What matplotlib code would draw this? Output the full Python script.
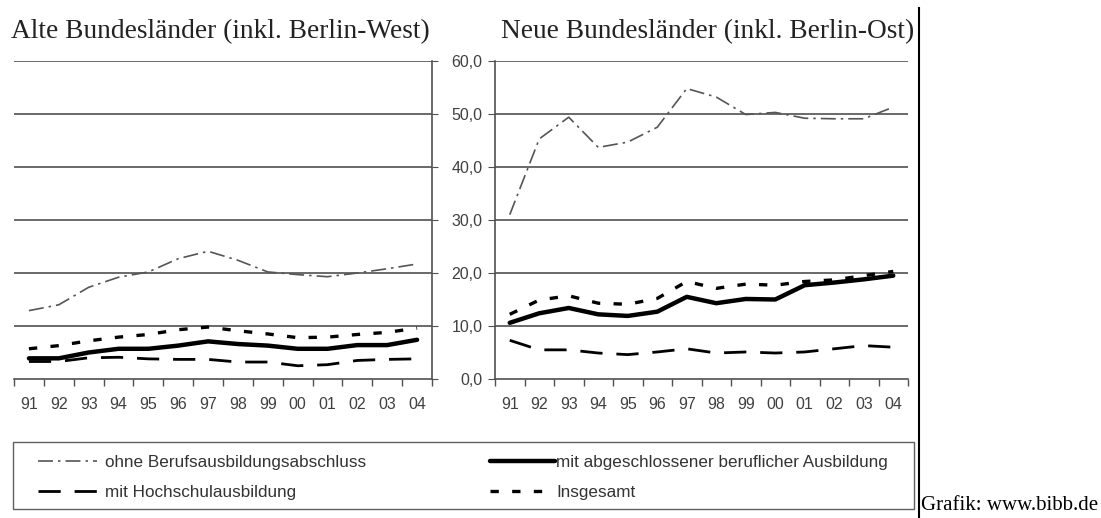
import numpy as np
import matplotlib
matplotlib.use('Agg')
import matplotlib.pyplot as plt
from matplotlib.lines import Line2D
from matplotlib.patches import Rectangle

years = ['91', '92', '93', '94', '95', '96', '97', '98', '99', '00', '01', '02', '03', '04']

# Alte Bundeslaender (inkl. Berlin-West)
west_ohne = [12.9, 14.0, 17.3, 19.2, 20.2, 22.7, 24.1, 22.4, 20.2, 19.7, 19.3, 20.0, 20.8, 21.7]
west_mit = [3.9, 3.9, 5.0, 5.7, 5.7, 6.3, 7.1, 6.6, 6.3, 5.7, 5.7, 6.4, 6.4, 7.4]
west_hoch = [3.3, 3.3, 4.0, 4.1, 3.8, 3.7, 3.7, 3.2, 3.2, 2.5, 2.7, 3.5, 3.7, 3.8]
west_ges = [5.7, 6.3, 7.2, 7.9, 8.4, 9.3, 9.8, 9.1, 8.5, 7.8, 7.9, 8.4, 8.8, 9.6]

# Neue Bundeslaender (inkl. Berlin-Ost)
ost_ohne = [31.0, 45.3, 49.4, 43.7, 44.7, 47.5, 54.8, 53.2, 49.9, 50.3, 49.2, 49.1, 49.1, 51.3]
ost_mit = [10.6, 12.4, 13.4, 12.2, 11.9, 12.7, 15.5, 14.3, 15.1, 15.0, 17.7, 18.2, 18.8, 19.5]
ost_hoch = [7.3, 5.5, 5.5, 4.9, 4.6, 5.1, 5.7, 4.9, 5.1, 4.9, 5.1, 5.7, 6.3, 6.0]
ost_ges = [12.2, 14.9, 15.7, 14.3, 14.1, 15.2, 18.4, 17.1, 17.9, 17.7, 18.4, 18.7, 19.5, 20.3]

labels = ['ohne Berufsausbildungsabschluss', 'mit abgeschlossener beruflicher Ausbildung',
          'mit Hochschulausbildung', 'Insgesamt']

plt.rcParams['font.family'] = ['Liberation Sans', 'DejaVu Sans']

W, H = 1101, 518
fig = plt.figure(figsize=(W / 100, H / 100), dpi=100)

styles = {
    'ohne': dict(color='#555555', lw=1.2, dashes=[9, 3, 1.5, 3]),
    'mit': dict(color='black', lw=3.2, solid_capstyle='round'),
    'hoch': dict(color='black', lw=2.0, dashes=[8, 5]),
    'ges': dict(color='black', lw=2.4, dashes=[2.5, 4]),
}
grid_col = '#505050'
text_col = '#404040'


def draw(ax, ohne, mit, hoch, ges):
    x = np.arange(len(years)) + 0.5
    ax.plot(x, ohne, **styles['ohne'])
    ax.plot(x, mit, **styles['mit'])
    ax.plot(x, hoch, **styles['hoch'])
    ax.plot(x, ges, **styles['ges'])
    ax.set_xlim(0, len(years))
    ax.set_ylim(0, 60)
    ax.set_yticks(range(0, 61, 10))
    for v in range(10, 61, 10):
        ax.axhline(v, color=grid_col, lw=1.2, zorder=0)
    ax.set_xticks(np.arange(len(years) + 1))
    ax.set_xticklabels([])
    ax.set_xticks(x, labels=years, minor=True)
    ax.tick_params(axis='x', which='major', length=5, color=grid_col, width=1)
    ax.tick_params(axis='x', which='minor', length=0, pad=13, labelsize=11.5, labelcolor=text_col)
    ax.spines['top'].set_visible(False)
    for s in ax.spines.values():
        s.set_color(grid_col)
        s.set_linewidth(1.2)


ax1 = fig.add_axes([14 / W, 1 - 379 / H, 418 / W, 318 / H])
draw(ax1, west_ohne, west_mit, west_hoch, west_ges)
ax1.spines['left'].set_visible(False)
ax1.yaxis.tick_right()
ax1.tick_params(axis='y', labelright=False, length=4, color=grid_col)

ax2 = fig.add_axes([495 / W, 1 - 379 / H, 413 / W, 318 / H])
draw(ax2, ost_ohne, ost_mit, ost_hoch, ost_ges)
ax2.spines['right'].set_visible(False)
ax2.set_yticklabels([f'{v:.1f}'.replace('.', ',') for v in range(0, 61, 10)])
ax2.tick_params(axis='y', length=5, color=grid_col, pad=4, labelsize=11.5, labelcolor=text_col)

fig.text(11 / W, 1 - 32 / H, 'Alte Bundesländer (inkl. Berlin-West)', family='Liberation Serif',
         size=19.7, va='center', color='#222222')
fig.text(501 / W, 1 - 32 / H, 'Neue Bundesländer (inkl. Berlin-Ost)', family='Liberation Serif',
         size=19.7, va='center', color='#222222')

# frame line and source
fig.add_artist(Line2D([919 / W, 919 / W], [0, 1 - 8 / H], color='black', lw=1.5,
                      transform=fig.transFigure))
fig.text(921 / W, 1 - 506 / H, 'Grafik: www.bibb.de', family='Liberation Serif', size=15,
         va='center', color='black')

# legend
fig.add_artist(Rectangle((13 / W, 1 - 509 / H), (914 - 13) / W, (509 - 442) / H,
                         transform=fig.transFigure, fill=False, edgecolor='#606060', lw=1))
h = {k: Line2D([], [], **v) for k, v in styles.items()}
leg_kw = dict(loc='upper left', frameon=False, borderpad=0, borderaxespad=0,
              labelspacing=0.87, fontsize=12.3, labelcolor='#333333')
fig.legend([h['ohne'], h['hoch']], [labels[0], labels[2]], bbox_to_anchor=(38 / W, 1 - 455 / H),
           handlelength=3.45, handletextpad=0.47, **leg_kw)
fig.legend([h['mit'], h['ges']], [labels[1], labels[3]], bbox_to_anchor=(490 / W, 1 - 455 / H),
           handlelength=3.8, handletextpad=0.06, **leg_kw)

fig.savefig('out.png', dpi=100)
